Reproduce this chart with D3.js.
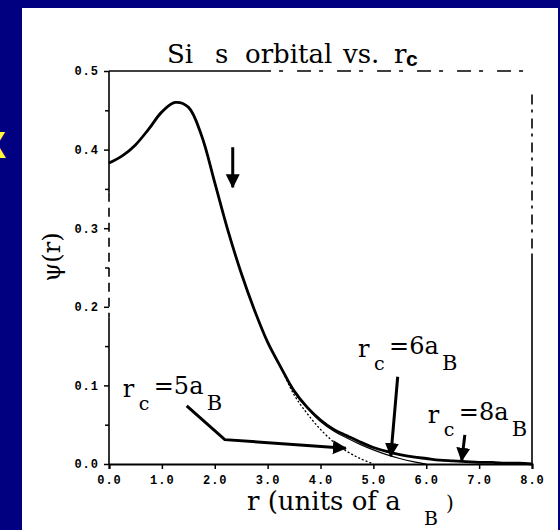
<!DOCTYPE html>
<html>
<head>
<meta charset="utf-8">
<script src="https://cdn.jsdelivr.net/npm/d3@7/dist/d3.min.js"></script>
<style>
  html, body { margin: 0; padding: 0; background: #000080; }
  svg { display: block; }
</style>
</head>
<body>
<svg id="chart" width="560" height="530"></svg>
<script>
// radius in units of a_B
var rValues = [0, 0.25, 0.5, 0.75, 1, 1.25, 1.5, 1.75, 2, 2.25, 2.5, 2.75, 3, 3.25,
  3.5, 3.75, 4, 4.25, 4.5, 4.75, 5, 5.25, 5.5, 5.75, 6, 6.25, 6.5, 6.75, 7, 7.25, 7.5, 7.75, 8];

// psi(r) for each cutoff radius
var psiRc8 = [0.383, 0.392, 0.406, 0.426, 0.448, 0.460, 0.454, 0.418, 0.358, 0.297, 0.243, 0.196, 0.155, 0.123,
  0.093, 0.072, 0.056, 0.044, 0.036, 0.028, 0.021, 0.016, 0.012, 0.009, 0.007, 0.005, 0.004, 0.003, 0.002, 0.002, 0.001, 0.001, 0.000];
var psiRc6 = [0.383, 0.392, 0.406, 0.426, 0.448, 0.460, 0.454, 0.418, 0.358, 0.297, 0.243, 0.196, 0.155, 0.123,
  0.092, 0.071, 0.054, 0.042, 0.033, 0.025, 0.018, 0.012, 0.007, 0.003, 0.000, null, null, null, null, null, null, null, null];
var psiRc5 = [0.383, 0.392, 0.406, 0.426, 0.448, 0.460, 0.454, 0.418, 0.358, 0.297, 0.243, 0.196, 0.155, 0.123,
  0.088, 0.064, 0.044, 0.028, 0.016, 0.007, 0.000, null, null, null, null, null, null, null, null, null, null, null, null];

var xTicks = [0, 1, 2, 3, 4, 5, 6, 7, 8];
var yTicks = [0, 0.1, 0.2, 0.3, 0.4, 0.5];
var yMinorTicks = [0.05, 0.15, 0.25, 0.35, 0.45];

// annotations: label value, label anchor (r, psi) and arrow path in data units
var labelValues = ["5", "6", "8"];
var labelAt = [[0.26, 0.085], [4.71, 0.136], [6.03, 0.052]];
var arrowPaths = [
  [[1.47, 0.074], [2.19, 0.031], [4.48, 0.020]],
  [[5.46, 0.111], [5.33, 0.010]],
  [[6.73, 0.037], [6.67, 0.004]],
  [[2.34, 0.403], [2.34, 0.352]]
];

var svg = d3.select("#chart");

// slide panel
svg.append("rect").attr("x", 22).attr("y", 8).attr("width", 536).attr("height", 522).attr("fill", "#fff");
svg.append("text").attr("x", -18).attr("y", 158)
  .attr("font-family", "Liberation Sans").attr("font-weight", "bold").attr("font-size", 36)
  .attr("fill", "#ffff33").text("X");

var x = d3.scaleLinear().domain([0, 8]).range([109, 532]);
var y = d3.scaleLinear().domain([0, 0.5]).range([464, 71]);

var tickFont = function(sel){
  sel.selectAll("text").attr("font-family", "Liberation Mono").attr("font-weight", "bold")
    .attr("font-size", 12).attr("letter-spacing", 1).attr("fill", "#000");
  sel.selectAll("line").attr("stroke", "#000").attr("stroke-width", 1.5);
};

var xAxis = svg.append("g").attr("transform", "translate(0," + y(0) + ")")
  .call(d3.axisBottom(x).tickValues(xTicks).tickFormat(d3.format(".1f")).tickSize(5).tickPadding(6));
xAxis.select(".domain").attr("stroke", "#000").attr("stroke-width", 2);
xAxis.call(tickFont);

var yAxis = svg.append("g").attr("transform", "translate(" + x(0) + ",0)")
  .call(d3.axisLeft(y).tickValues(yTicks).tickFormat(d3.format(".1f")).tickSize(5).tickPadding(5));
yAxis.select(".domain").remove();
yAxis.call(tickFont);
svg.append("g").attr("transform", "translate(" + x(0) + ",0)")
  .call(d3.axisLeft(y).tickValues(yMinorTicks).tickFormat("").tickSize(4))
  .call(function(g){ g.select(".domain").remove(); g.selectAll("line").attr("stroke", "#000").attr("stroke-width", 1.5); });

// frame lines (scanned, partly broken)
var frame = svg.append("g").attr("stroke", "#000").attr("stroke-width", 1.6);
frame.append("line").attr("x1", x(0)).attr("x2", x(0)).attr("y1", y(0.5)).attr("y2", y(0.345));
frame.append("line").attr("x1", x(0)).attr("x2", x(0)).attr("y1", y(0.345)).attr("y2", y(0.186)).attr("stroke-dasharray", "9,6");
frame.append("line").attr("x1", x(0)).attr("x2", x(0)).attr("y1", y(0.186)).attr("y2", y(0));
frame.append("line").attr("x1", x(0)).attr("x2", x(2.8)).attr("y1", y(0.5)).attr("y2", y(0.5));
frame.append("line").attr("x1", x(2.8)).attr("x2", x(8)).attr("y1", y(0.5)).attr("y2", y(0.5)).attr("stroke-dasharray", "14,8,4,14");
frame.append("line").attr("x1", x(8)).attr("x2", x(8)).attr("y1", y(0.47)).attr("y2", y(0.266)).attr("stroke-dasharray", "10,5,3,6");
frame.append("line").attr("x1", x(8)).attr("x2", x(8)).attr("y1", y(0.266)).attr("y2", y(0));

// curves
var line = d3.line()
  .defined(function(d){ return d[1] !== null; })
  .x(function(d){ return x(d[0]); })
  .y(function(d){ return y(d[1]); })
  .curve(d3.curveCatmullRom.alpha(0.5));

var series = [
  { values: psiRc5, width: 1.3, dash: "2,2" },
  { values: psiRc6, width: 1.2, dash: null },
  { values: psiRc8, width: 2.8, dash: null }
];
series.forEach(function(s){
  svg.append("path")
    .datum(rValues.map(function(r, i){ return [r, s.values[i]]; }))
    .attr("d", line)
    .attr("fill", "none").attr("stroke", "#000")
    .attr("stroke-width", s.width)
    .attr("stroke-dasharray", s.dash);
});

// arrows
svg.append("defs").append("marker")
  .attr("id", "head").attr("markerUnits", "userSpaceOnUse")
  .attr("viewBox", "0 -8 14 16").attr("refX", 13).attr("refY", 0)
  .attr("markerWidth", 14).attr("markerHeight", 16).attr("orient", "auto")
  .append("path").attr("d", "M0,-7L14,0L0,7Z").attr("fill", "#000");

var arrowLine = d3.line().x(function(d){ return x(d[0]); }).y(function(d){ return y(d[1]); });
arrowPaths.forEach(function(p){
  svg.append("path").attr("d", arrowLine(p))
    .attr("fill", "none").attr("stroke", "#000").attr("stroke-width", 3)
    .attr("marker-end", "url(#head)");
});

// r_c labels
labelValues.forEach(function(v, i){
  var g = svg.append("g").attr("transform", "translate(" + x(labelAt[i][0]) + "," + y(labelAt[i][1]) + ")")
    .attr("font-family", "DejaVu Serif").attr("fill", "#000");
  g.append("text").attr("x", 0).attr("y", 0).attr("font-size", 24).text("r");
  g.append("text").attr("x", 16).attr("y", 13).attr("font-size", 19).text("c");
  g.append("text").attr("x", 31).attr("y", -3).attr("font-size", 24).text("=" + v + "a");
  g.append("text").attr("x", 84).attr("y", 13).attr("font-size", 21).text("B");
});

// title
var title = svg.append("text").attr("y", 63).attr("font-family", "DejaVu Serif").attr("font-size", 26).attr("fill", "#000");
title.append("tspan").attr("x", 167).text("Si");
title.append("tspan").attr("x", 215).text("s");
title.append("tspan").attr("x", 245).text("orbital");
title.append("tspan").attr("x", 343).text("vs.");
title.append("tspan").attr("x", 394).text("r");
svg.append("text").attr("x", 406).attr("y", 66)
  .attr("font-family", "Liberation Sans").attr("font-weight", "bold").attr("font-size", 21)
  .attr("fill", "#000").text("c");

// axis titles
svg.append("text")
  .attr("transform", "translate(60,257) rotate(-90)")
  .attr("text-anchor", "middle")
  .attr("font-family", "DejaVu Serif").attr("font-size", 24).attr("fill", "#000")
  .text("ψ(r)");

svg.append("text").attr("x", 247).attr("y", 510).attr("font-family", "DejaVu Serif")
  .attr("font-size", 26).attr("fill", "#000").text("r (units of a");
svg.append("text").attr("x", 424).attr("y", 525).attr("font-family", "DejaVu Serif")
  .attr("font-size", 19).attr("fill", "#000").text("B");
svg.append("text").attr("x", 446).attr("y", 510).attr("font-family", "DejaVu Serif")
  .attr("font-size", 20).attr("fill", "#000").text(")");
</script>
</body>
</html>
